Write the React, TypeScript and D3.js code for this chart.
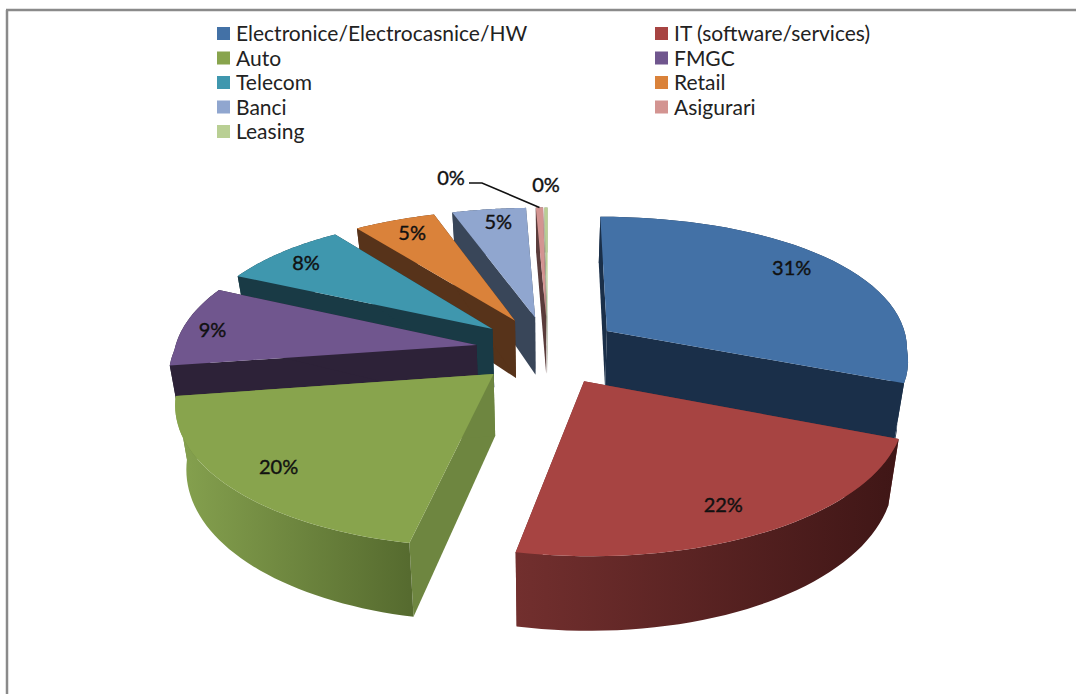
import React, { useEffect, useRef } from "react";
import * as d3 from "d3";

// market share by sector
const categories = [
  "Electronice/Electrocasnice/HW",
  "IT (software/services)",
  "Auto",
  "FMGC",
  "Telecom",
  "Retail",
  "Banci",
  "Asigurari",
  "Leasing",
];
const shares = [31.2, 22.6, 19.7, 9.2, 8.0, 5.1, 4.6, 0.45, 0.2];
const shareLabels = ["31%", "22%", "20%", "9%", "8%", "5%", "5%", "0%", "0%"];

const topColors = ["#4371a6", "#a74442", "#88a44d", "#70568e", "#3f97ae", "#da823a", "#90a6cf", "#d39491", "#b9cf94"];
const sideColors = ["#1a2f49", "#6e2e2d", "#6e8640", "#2d2238", "#193a45", "#57331a", "#394659", "#5a3c3b", "#a0a890"];
const wallFrom = ["#1a2f49", "#722f2e", "#86a24f", "#2d2238", "#193a45", "#57331a", "#394659", "#5a3c3b", "#a0a890"];
const wallTo = ["#1a2f49", "#3f1616", "#566b2f", "#2d2238", "#193a45", "#57331a", "#394659", "#5a3c3b", "#a0a890"];

// far slices first so the near ones paint over them
const paintOrder = [8, 7, 6, 5, 4, 3, 2, 0, 1];

const width = 1076;
const height = 694;
const vpX = 548;
const cy = 350;
const explode = 0.24;
const labelRadius = 0.82;
// small hand corrections for the percent labels
const labelNudge = [[-3, -4], [-5, 2], [-4, 1], [-24, 1], [-11, -2], [-2, -3], [2, -4]];

// flat disc coordinates (radius 1) to screen, with a rough perspective
const project = (px: number, py: number, drop = false): [number, number] => {
  const k = py < 0 ? 0.11 : 0.19;
  let x = vpX + 302 * px * (1 + k * py);
  let y = cy + py * (143 + 22.6 * py);
  if (drop) {
    x = vpX + (x - vpX) * 0.97;
    y += 60 + 12 * py;
  }
  return [x, y];
};

const App = () => {
  const svgRef = useRef<SVGSVGElement>(null);

  useEffect(() => {
    const svg = d3.select(svgRef.current);
    svg.selectAll("*").remove();

    // frame of the original screenshot
    const frame = svg.append("g").attr("stroke", "#8a8a8a").attr("stroke-width", 2.5);
    frame.append("line").attr("x1", 6).attr("x2", width).attr("y1", 10).attr("y2", 10);
    frame.append("line").attr("x1", 7).attr("x2", 7).attr("y1", 10).attr("y2", height);

    const pieData = d3.pie<number>().sort(null)(shares);
    const defs = svg.append("defs");
    const line = d3.line();
    const pie3d = svg.append("g");

    const slices = pieData.map((d, i) => {
      const mid = (d.startAngle + d.endAngle) / 2;
      const ax = explode * Math.sin(mid);
      const ay = -explode * Math.cos(mid);
      const steps = d3.range(0, 41).map((t) => d.startAngle + ((d.endAngle - d.startAngle) * t) / 40);
      const rim = steps.map((a) => [ax + Math.sin(a), ay - Math.cos(a)] as [number, number]);
      return { i, mid, ax, ay, rim };
    });

    paintOrder.forEach((i) => {
      const s = slices[i];
      const top = s.rim.map((p) => project(p[0], p[1]));
      const bottom = s.rim.map((p) => project(p[0], p[1], true));
      const apexTop = project(s.ax, s.ay);
      const apexBottom = project(s.ax, s.ay, true);

      const xs = top.map((p) => p[0]);
      const gradId = `wall-${i}`;
      const grad = defs
        .append("linearGradient")
        .attr("id", gradId)
        .attr("gradientUnits", "userSpaceOnUse")
        .attr("x1", d3.min(xs)!)
        .attr("x2", d3.max(xs)!)
        .attr("y1", 0)
        .attr("y2", 0);
      grad.append("stop").attr("offset", 0).attr("stop-color", wallFrom[i]);
      grad.append("stop").attr("offset", 1).attr("stop-color", wallTo[i]);

      const g = pie3d.append("g");
      // the two cut walls
      [top[0], top[top.length - 1]].forEach((edge, k) => {
        const low = k === 0 ? bottom[0] : bottom[bottom.length - 1];
        g.append("path")
          .attr("d", line([apexTop, edge, low, apexBottom])! + "Z")
          .attr("fill", sideColors[i]);
      });
      // outer wall
      g.append("path")
        .attr("d", line([...top, ...[...bottom].reverse()])! + "Z")
        .attr("fill", `url(#${gradId})`);
      // top face
      g.append("path")
        .attr("d", line([apexTop, ...top])! + "Z")
        .attr("fill", topColors[i]);
    });

    // percent labels
    const labelFont = "Lato, 'Open Sans', sans-serif";
    const addLabel = (x: number, y: number, text: string) =>
      svg.append("text")
        .attr("x", x)
        .attr("y", y)
        .attr("dy", "0.35em")
        .attr("text-anchor", "middle")
        .style("font-family", labelFont)
        .style("font-size", "20px")
        .attr("fill", "#111")
        .attr("stroke", "#111")
        .attr("stroke-width", 0.4)
        .text(text);

    slices.forEach((s, i) => {
      if (i >= 7) return;
      const [x, y] = project(
        s.ax + labelRadius * Math.sin(s.mid),
        s.ay - labelRadius * Math.cos(s.mid)
      );
      addLabel(x + labelNudge[i][0], y + labelNudge[i][1], shareLabels[i]);
    });

    // the two tiny slices sit outside the pie
    const rimAsig = slices[7].rim[20];
    const [tipX, tipY] = project(rimAsig[0], rimAsig[1]);
    svg.append("path")
      .attr("d", line([[469, 183], [482, 183], [tipX, tipY]])!)
      .attr("fill", "none")
      .attr("stroke", "#111")
      .attr("stroke-width", 1.6);
    addLabel(451, 178, shareLabels[7]);
    addLabel(546, 185, shareLabels[8]);

    // legend, two columns
    const colX = d3.scaleOrdinal<number, number>().domain([0, 1]).range([217, 655]);
    const rowY = d3.scaleLinear().domain([0, 4]).range([34, 132]);
    categories.forEach((name, i) => {
      const col = i % 2;
      const row = Math.floor(i / 2);
      svg.append("rect")
        .attr("x", colX(col))
        .attr("y", rowY(row) - 7)
        .attr("width", 13)
        .attr("height", 13)
        .attr("fill", topColors[i]);
      svg.append("text")
        .attr("x", colX(col) + 19)
        .attr("y", rowY(row))
        .attr("dy", "0.35em")
        .style("font-family", labelFont)
        .style("font-size", "21px")
        .attr("fill", "#222")
        .text(name);
    });
  }, []);

  return (
    <svg
      ref={svgRef}
      width={width}
      height={height}
      style={{ position: "absolute", left: 0, top: 0, background: "#fff" }}
    />
  );
};

export default App;
